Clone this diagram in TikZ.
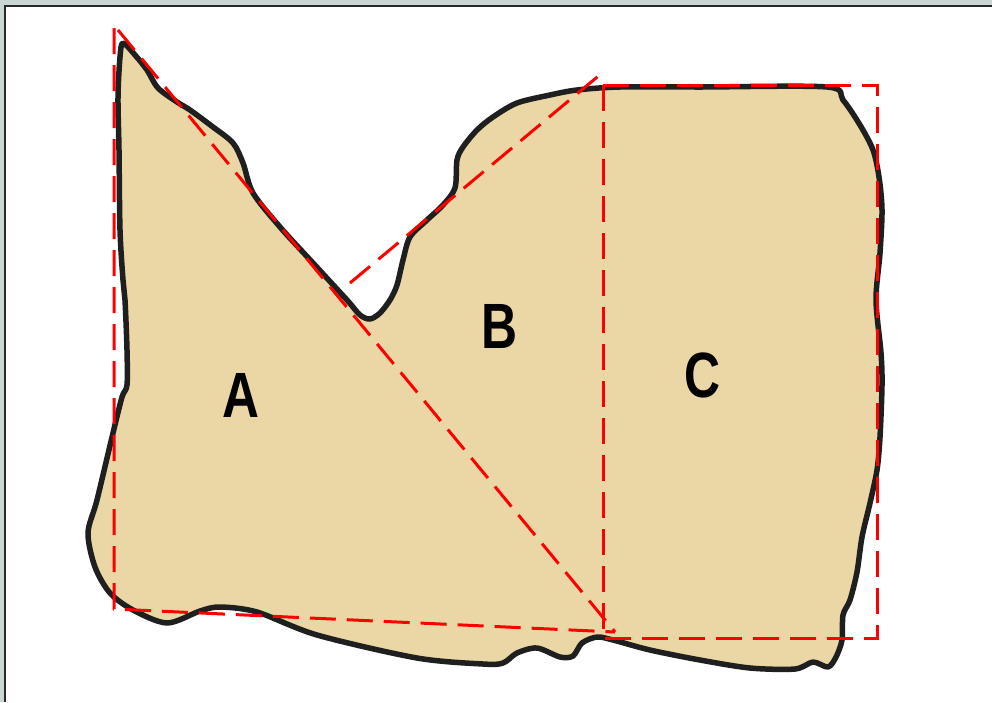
\documentclass[tikz,border=0pt]{standalone}
\usepackage{graphicx}
\usepackage{fontspec}
\setmainfont{Liberation Sans}
\definecolor{framegray}{RGB}{201,214,211}
\definecolor{frameline}{RGB}{40,40,40}
\definecolor{landfill}{RGB}{235,215,165}
\definecolor{redline}{RGB}{255,0,0}
\tikzset{
  outline/.style={draw=black!88, line width=5.5pt, fill=landfill, line join=round},
  guide/.style={draw=redline, line width=3pt, dash pattern=on 26pt off 11pt},
  lbl/.style={font=\bfseries\fontsize{64}{64}\selectfont, inner sep=0pt, text=black}
}
\begin{document}
\begin{tikzpicture}[x=1pt,y=-1pt]
\useasboundingbox (0,0) rectangle (992,702);
% frame
\fill[framegray] (0,0) rectangle (992,702);
\fill[white] (5,6) rectangle (992,702);
\draw[frameline, line width=1.6pt] (5,702) -- (5,6) -- (992,6);
% land outline
\path[outline] plot[smooth cycle, tension=0.5] coordinates {
(123,43) (135,55) (147,70) (158,88) (177,102) (190,110) (213,127) (233,143)
(243,163) (253,193) (280,227) (313,263) (347,300) (360,315) (370,319) (380,313)
(390,300) (397,285) (403,260) (410,237) (427,220) (443,205) (455,188) (457,160)
(463,147) (477,130) (493,117) (517,103) (550,95) (577,90) (620,87) (700,87)
(827,87) (843,100) (860,125) (873,150) (879,177) (882,210) (880,253) (876,300)
(881,353) (882,385) (880,437) (877,470) (870,503) (862,537) (857,572) (850,600)
(843,615) (842,640) (836,657) (828,667) (813,662) (795,669) (750,668) (700,660)
(650,650) (613,640) (597,637) (582,643) (573,656) (560,657) (537,648) (517,653)
(503,663) (483,664) (417,658) (317,635) (257,612) (220,607) (200,611) (167,623)
(133,610) (110,593) (95,567) (88,533) (97,500) (113,433) (122,397) (127,385)
(127,350) (125,300) (123,280) (120,230) (119,150) (118,97) (120,57)};
% guide lines
\coordinate (tA) at (114,28);
\coordinate (bA) at (114,609);
\coordinate (tD) at (118,30);
\coordinate (bD) at (615,632);
\coordinate (bB) at (350,283);
\coordinate (tB) at (602,73);
\coordinate (c1) at (603,85);
\coordinate (c2) at (877,638);
\draw[guide] (tA) -- (bA) -- (bD);
\draw[guide] (tD) -- (bD);
\draw[guide] (bB) -- (tB);
\draw[guide] (c1) rectangle (c2);
% labels
\node[lbl] (A) at (241,395) {\scalebox{0.8}[1]{A}};
\node[lbl] (B) at (500,326) {\scalebox{0.78}[1]{B}};
\node[lbl] (C) at (703,375) {\scalebox{0.78}[1]{C}};
\end{tikzpicture}
\end{document}
